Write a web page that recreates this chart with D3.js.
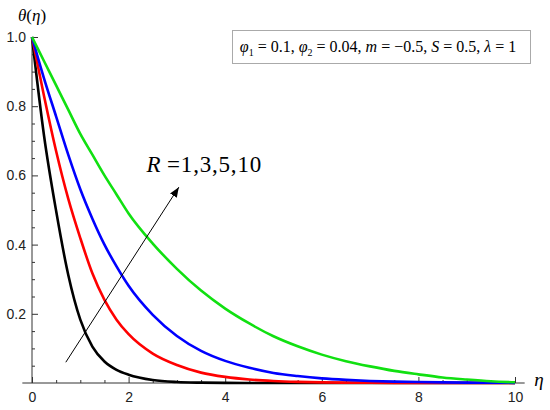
<!DOCTYPE html>
<html>
<head>
<meta charset="utf-8">
<script src="https://cdnjs.cloudflare.com/ajax/libs/d3/7.8.5/d3.min.js"></script>
<style>
	body { margin: 0; background: #fff; }
	svg { display: block; }
</style>
</head>
<body>
<main></main>
<script>
// eta grid and theta values, one list per R
const eta = [0, 0.25, 0.5, 0.75, 1, 1.25, 1.5, 1.75, 2, 2.5, 3, 3.5, 4, 4.5, 5, 5.5, 6, 6.5, 7, 7.5, 8, 8.5, 9, 9.5, 10];
const thetaR1  = [1, 0.714, 0.497, 0.313, 0.183, 0.105, 0.062, 0.038, 0.024, 0.0087, 0.0029, 0.001, 0.0003, 0.0001, 0, 0, 0, 0, 0, 0, 0, 0, 0, 0, 0];
const thetaR3  = [1, 0.829, 0.670, 0.533, 0.419, 0.317, 0.240, 0.183, 0.141, 0.085, 0.052, 0.030, 0.0176, 0.010, 0.0058, 0.0033, 0.0019, 0.0011, 0.0006, 0.0003, 0.0002, 0.0001, 0, 0, 0];
const thetaR5  = [1, 0.88, 0.77, 0.66, 0.56, 0.475, 0.40, 0.337, 0.281, 0.197, 0.136, 0.093, 0.064, 0.044, 0.029, 0.020, 0.0133, 0.009, 0.006, 0.004, 0.0027, 0.0018, 0.0012, 0.0008, 0.0005];
const thetaR10 = [1, 0.93, 0.86, 0.79, 0.72, 0.66, 0.60, 0.545, 0.49, 0.403, 0.33, 0.267, 0.215, 0.172, 0.135, 0.106, 0.082, 0.063, 0.048, 0.035, 0.025, 0.016, 0.010, 0.005, 0.002];

const seriesNames = ["R=1", "R=3", "R=5", "R=10"];
const seriesValues = [thetaR1, thetaR3, thetaR5, thetaR10];
const seriesColors = ["#000000", "#ff0000", "#0000ff", "#11e011"];

const xTicks = [0, 2, 4, 6, 8, 10];
const yTicks = [0.2, 0.4, 0.6, 0.8, 1.0];

const w = 550,
	h = 410;

const x = d3.scaleLinear().domain([0, 10]).range([32, 515]);
const y = d3.scaleLinear().domain([0, 1]).range([383, 37]);

const svg = d3.select("main")
	.append("svg")
	.attr("width", w)
	.attr("height", h)
	.style("font-family", "'Liberation Sans', Arial, sans-serif");

// axes, Mathematica style: ticks point into the plot
const axisColor = "#333";

svg.append("line")
	.attr("x1", x(-0.2)).attr("x2", x(10.2))
	.attr("y1", y(0)).attr("y2", y(0))
	.attr("stroke", axisColor);
svg.append("line")
	.attr("x1", x(0)).attr("x2", x(0))
	.attr("y1", y(0)).attr("y2", y(1))
	.attr("stroke", axisColor);

const xMinor = d3.range(0, 10.01, 0.5).filter((d) => !xTicks.includes(d));
svg.append("g")
	.attr("transform", "translate(0," + y(0) + ")")
	.call(d3.axisBottom(x).tickValues(xMinor).tickSizeInner(-3).tickSizeOuter(0).tickFormat(""))
	.call((g) => g.select(".domain").remove());
svg.append("g")
	.attr("transform", "translate(0," + y(0) + ")")
	.call(d3.axisBottom(x).tickValues(xTicks).tickSizeInner(-6).tickSizeOuter(0).tickPadding(9).tickFormat(d3.format("d")))
	.call((g) => g.select(".domain").remove())
	.call((g) => g.selectAll("text").style("font-size", "14px").attr("fill", "#222"));

const yMinor = d3.range(0.05, 1.001, 0.05).filter((d) => !yTicks.some((t) => Math.abs(t - d) < 1e-6));
svg.append("g")
	.attr("transform", "translate(" + x(0) + ",0)")
	.call(d3.axisLeft(y).tickValues(yMinor).tickSizeInner(-3).tickSizeOuter(0).tickFormat(""))
	.call((g) => g.select(".domain").remove());
svg.append("g")
	.attr("transform", "translate(" + x(0) + ",0)")
	.call(d3.axisLeft(y).tickValues(yTicks).tickSizeInner(-6).tickSizeOuter(0).tickPadding(6).tickFormat(d3.format(".1f")))
	.call((g) => g.select(".domain").remove())
	.call((g) => g.selectAll("text").style("font-size", "14px").attr("fill", "#222"));

svg.selectAll(".tick line").attr("stroke", axisColor);

// curves
const line = d3.line()
	.x((d) => x(d[0]))
	.y((d) => y(d[1]))
	.curve(d3.curveMonotoneX);

svg.selectAll("path.curve")
	.data(seriesValues)
	.enter()
	.append("path")
	.attr("class", "curve")
	.attr("d", (vals) => line(eta.map((e, i) => [e, vals[i]])))
	.attr("fill", "none")
	.attr("stroke", (d, i) => seriesColors[i])
	.attr("stroke-width", 2.6);

// axis labels
const serif = "'Liberation Serif', 'Times New Roman', serif";
const yLab = svg.append("text")
	.attr("x", x(0))
	.attr("y", 21)
	.attr("text-anchor", "middle")
	.style("font-family", serif)
	.style("font-size", "17px");
yLab.append("tspan").style("font-style", "italic").text("θ");
yLab.append("tspan").text("(");
yLab.append("tspan").style("font-style", "italic").text("η");
yLab.append("tspan").text(")");

svg.append("text")
	.attr("x", x(10.4))
	.attr("y", y(0) + 3)
	.style("font-family", serif)
	.style("font-style", "italic")
	.style("font-size", "19px")
	.text("η");

// parameter box
svg.append("rect")
	.attr("x", 232.5).attr("y", 30.5)
	.attr("width", 298).attr("height", 33)
	.attr("fill", "#fff")
	.attr("stroke", "#aaa");

const params = [
	["φ", "1", " = 0.1, "],
	["φ", "2", " = 0.04, "],
	["m", "", " = −0.5, "],
	["S", "", " = 0.5, "],
	["λ", "", " = 1"]
];
const legend = svg.append("text")
	.attr("x", 378)
	.attr("y", 52)
	.attr("text-anchor", "middle")
	.style("font-family", serif)
	.style("font-size", "16px");
params.forEach((p) => {
	legend.append("tspan").style("font-style", "italic").text(p[0]);
	if (p[1]) {
		legend.append("tspan").attr("dy", 4).style("font-size", "10px").text(p[1]);
		legend.append("tspan").attr("dy", -4).text(p[2]);
	} else {
		legend.append("tspan").text(p[2]);
	}
});

// arrow annotation for increasing R
svg.append("defs").append("marker")
	.attr("id", "head")
	.attr("viewBox", "0 0 10 10")
	.attr("refX", 10).attr("refY", 5)
	.attr("markerWidth", 10).attr("markerHeight", 10)
	.attr("markerUnits", "userSpaceOnUse")
	.attr("orient", "auto")
	.append("path")
	.attr("d", "M0,1 L10,5 L0,9 Z")
	.attr("fill", "#000");

svg.append("line")
	.attr("x1", x(0.70)).attr("y1", y(0.06))
	.attr("x2", x(3.04)).attr("y2", y(0.566))
	.attr("stroke", "#000")
	.attr("stroke-width", 1)
	.attr("marker-end", "url(#head)");

const rLab = svg.append("text")
	.attr("x", x(2.37))
	.attr("y", y(0.61))
	.style("font-family", serif)
	.style("font-size", "23px");
rLab.append("tspan").style("font-style", "italic").text("R");
rLab.append("tspan").style("letter-spacing", "0.8px").text(" =1,3,5,10");
</script>
</body>
</html>
